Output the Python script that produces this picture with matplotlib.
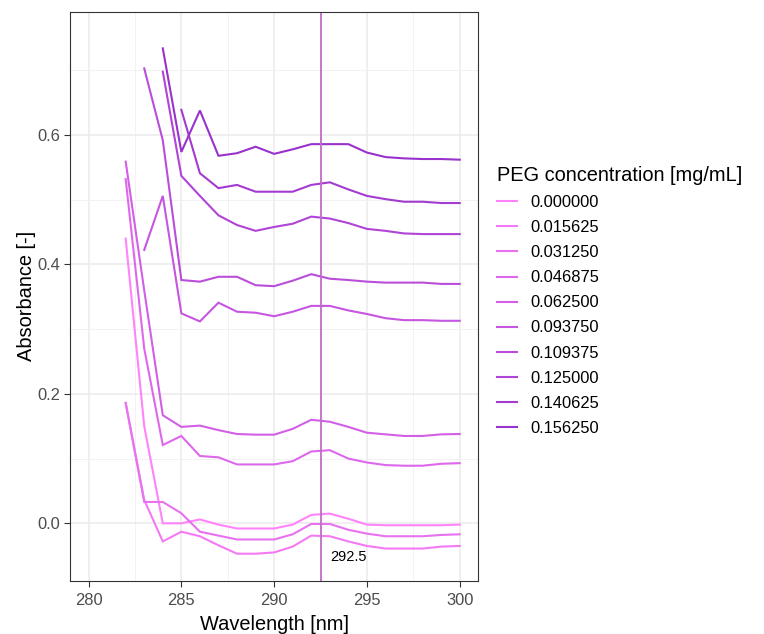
import matplotlib
matplotlib.use("Agg")
import matplotlib.pyplot as plt
from matplotlib.colors import to_rgb
import numpy as np

nan = np.nan

# ── Data ──────────────────────────────────────────────────────────────────────
wavelength = np.arange(282, 301)

peg_labels = ["0.000000", "0.015625", "0.031250", "0.046875", "0.062500",
              "0.093750", "0.109375", "0.125000", "0.140625", "0.156250"]

abs_000000 = [0.440, 0.150, 0.000, 0.000, 0.006, -0.002, -0.008, -0.008, -0.008, -0.002,
              0.013, 0.015, 0.007, -0.002, -0.003, -0.003, -0.003, -0.003, -0.002]
abs_015625 = [0.186, 0.036, -0.028, -0.013, -0.020, -0.034, -0.047, -0.047, -0.045, -0.036,
              -0.019, -0.020, -0.028, -0.035, -0.039, -0.039, -0.039, -0.036, -0.035]
abs_031250 = [0.186, 0.033, 0.033, 0.0155, -0.013, -0.019, -0.025, -0.025, -0.025, -0.017,
              -0.001, -0.001, -0.010, -0.016, -0.020, -0.020, -0.020, -0.018, -0.017]
abs_046875 = [0.532, 0.270, 0.121, 0.135, 0.104, 0.102, 0.091, 0.091, 0.091, 0.096,
              0.111, 0.113, 0.100, 0.094, 0.090, 0.089, 0.089, 0.092, 0.093]
abs_062500 = [0.559, 0.360, 0.167, 0.149, 0.151, 0.144, 0.138, 0.137, 0.137, 0.146,
              0.160, 0.157, 0.149, 0.140, 0.1375, 0.135, 0.135, 0.1375, 0.138]
abs_093750 = [nan, 0.4225, 0.506, 0.3245, 0.312, 0.341, 0.327, 0.3255, 0.320, 0.327,
              0.336, 0.336, 0.329, 0.3235, 0.317, 0.314, 0.314, 0.313, 0.313]
abs_109375 = [nan, 0.703, 0.592, 0.376, 0.3735, 0.381, 0.381, 0.368, 0.3665, 0.375,
              0.385, 0.378, 0.376, 0.3735, 0.372, 0.372, 0.372, 0.370, 0.370]
abs_125000 = [nan, nan, 0.698, 0.537, 0.506, 0.476, 0.461, 0.452, 0.458, 0.463,
              0.474, 0.471, 0.464, 0.455, 0.452, 0.448, 0.447, 0.447, 0.447]
abs_140625 = [nan, nan, nan, 0.639, 0.541, 0.518, 0.523, 0.5125, 0.5125, 0.5125,
              0.523, 0.527, 0.516, 0.506, 0.501, 0.497, 0.497, 0.495, 0.495]
abs_156250 = [nan, nan, 0.734, 0.574, 0.638, 0.568, 0.572, 0.582, 0.571, 0.578,
              0.586, 0.586, 0.586, 0.573, 0.566, 0.564, 0.563, 0.563, 0.562]

series = [abs_000000, abs_015625, abs_031250, abs_046875, abs_062500,
          abs_093750, abs_109375, abs_125000, abs_140625, abs_156250]

LINE_X = 292.5

# ── Style ─────────────────────────────────────────────────────────────────────
plt.rcParams["font.family"] = ["Liberation Sans", "DejaVu Sans"]

LOW, HIGH = np.array(to_rgb("#FF83FA")), np.array(to_rgb("#9932CC"))
colors = [tuple(LOW + (HIGH - LOW) * t) for t in np.linspace(0, 1, len(series))]

W, H = 764, 634
fig = plt.figure(figsize=(W / 100, H / 100), dpi=100)
fig.patch.set_facecolor("white")
ax = fig.add_axes([70 / W, 1 - 580.7 / H, (478.3 - 70) / W, (580.7 - 11.7) / H])

ax.set_xlim(279, 301)
ax.set_ylim(-0.0887, 0.7907)
ax.set_xticks([280, 285, 290, 295, 300])
ax.set_xticks([282.5, 287.5, 292.5, 297.5], minor=True)
ax.set_yticks([0.0, 0.2, 0.4, 0.6])
ax.set_yticks([0.1, 0.3, 0.5, 0.7], minor=True)
ax.yaxis.set_major_formatter(matplotlib.ticker.FormatStrFormatter("%.1f"))
ax.grid(which="major", color="#EBEBEB", lw=1.1)
ax.grid(which="minor", color="#F2F2F2", lw=0.7)
ax.set_axisbelow(True)

for vals, lab, col in zip(series, peg_labels, colors):
    ax.plot(wavelength, vals, color=col, lw=1.5, label=lab, solid_joinstyle="miter")

ax.axvline(LINE_X, color="#C26BC9", lw=1.3)
ax.text(LINE_X + 1.5, -0.052, f"{LINE_X}", ha="center", va="center",
        fontsize=10.5, color="black")

ax.tick_params(which="major", length=4.3, width=0.8, color="#333333",
               labelcolor="#4D4D4D", labelsize=11.9)
ax.tick_params(axis="x", which="major", pad=4.5)
ax.tick_params(axis="y", which="major", pad=2.5)
ax.tick_params(which="minor", length=0)
for sp in ax.spines.values():
    sp.set_edgecolor("#333333")
    sp.set_linewidth(0.8)

ax.set_xlabel("Wavelength [nm]", fontsize=14.4, labelpad=5)
ax.set_ylabel("Absorbance [-]", fontsize=14.4, labelpad=1)

leg = ax.legend(loc="upper left", bbox_to_anchor=(497 / W, 1 - 166 / H),
                bbox_transform=fig.transFigure, frameon=False,
                title="PEG concentration [mg/mL]", title_fontsize=14.4,
                fontsize=11.9, handlelength=1.2, handletextpad=0.8,
                labelspacing=0.61, borderpad=0, borderaxespad=0,
                alignment="left")

fig.savefig("out.png", dpi=100, facecolor=fig.get_facecolor())
plt.close(fig)
